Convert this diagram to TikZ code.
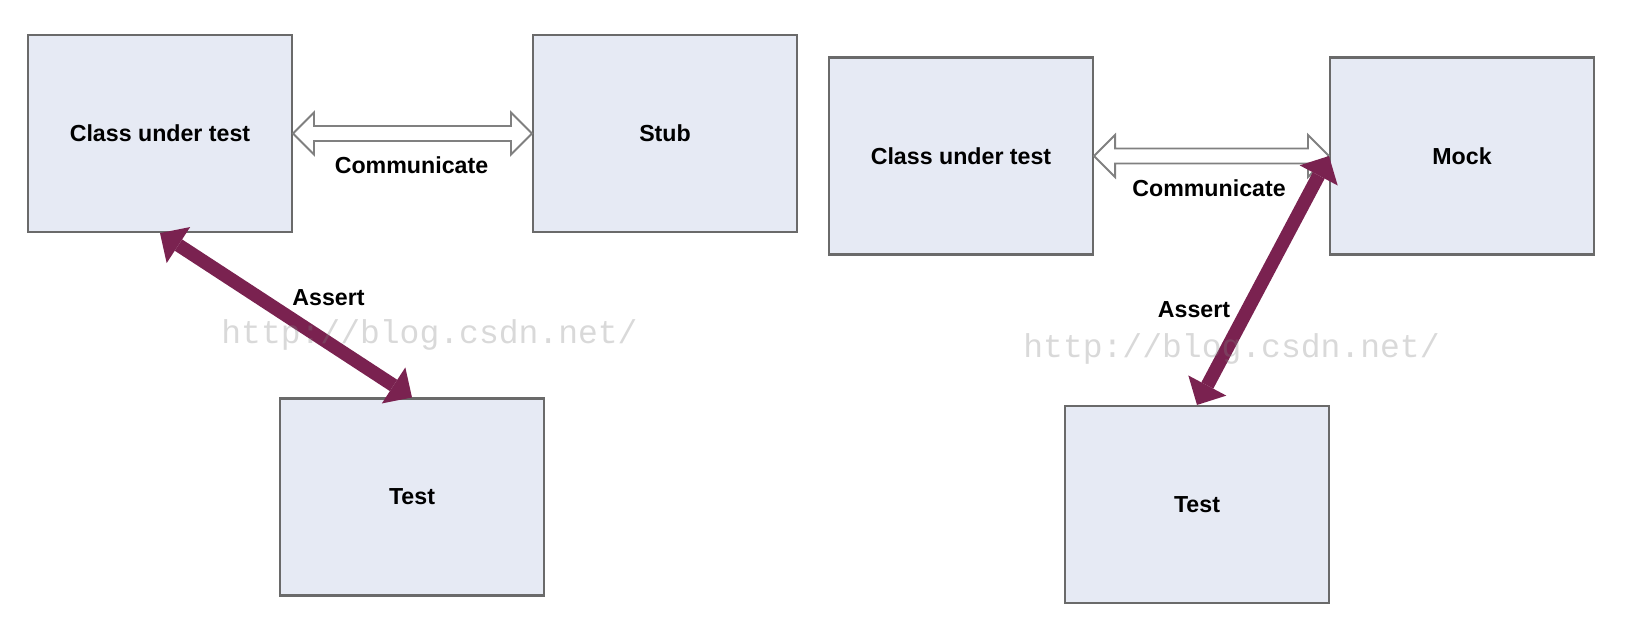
\documentclass[tikz,border=0pt]{standalone}
\usepackage{fontspec}
\setmainfont{Liberation Sans}
\newfontfamily\wmfont{Liberation Mono}
\usetikzlibrary{positioning}
\usetikzlibrary{arrows.meta}
\usetikzlibrary{calc}
\definecolor{boxfill}{HTML}{E6EAF4}
\definecolor{boxline}{HTML}{6A6A6A}
\definecolor{assertred}{HTML}{7A2250}

\begin{document}
\begin{tikzpicture}[x=0.02cm,y=-0.02cm,
	box/.style={draw=boxline, fill=boxfill, line width=1.2pt, minimum width=5.28cm, minimum height=3.94cm, font=\bfseries\fontsize{13.2}{15}\selectfont},
	lbl/.style={font=\bfseries\fontsize{13.2}{15}\selectfont},
	comm/.style={draw=gray, fill=white, line width=1.1pt, line join=miter},
	assert/.style={draw=assertred, line width=0.27cm, {Triangle[length=0.44cm,width=0.86cm,line width=0pt]}-{Triangle[length=0.44cm,width=0.86cm,line width=0pt]}},
	wmark/.style={text=gray, text opacity=0.3, font=\wmfont\fontsize{18.8}{20}\selectfont}]
	\useasboundingbox (0,0) rectangle (1648,628);
	% stub side
	\node (cutA) [box] at (160,133.5) {Class under test};
	\node (stub) [box, right=4.78cm of cutA] {Stub};
	\node (testA) [box] at (412,497) {Test};
	% mock side
	\node (cutB) [box] at (961,156) {Class under test};
	\node (mock) [box, right=4.7cm of cutB] {Mock};
	\node (testB) [box] at (1197,504.5) {Test};
	% communicate arrows
	\draw[comm] (cutA.east) -- ++(21,-21) -- ++(0,13.5) -- ($(stub.west)+(-21,-7.5)$) -- ++(0,-13.5) -- (stub.west) -- ++(-21,21) -- ++(0,-13.5) -- ($(cutA.east)+(21,7.5)$) -- ++(0,13.5) -- cycle;
	\draw[comm] (cutB.east) -- ++(21,-21) -- ++(0,13.5) -- ($(mock.west)+(-21,-7.5)$) -- ++(0,-13.5) -- (mock.west) -- ++(-21,21) -- ++(0,-13.5) -- ($(cutB.east)+(21,7.5)$) -- ++(0,13.5) -- cycle;
	% assert arrows
	\draw[assert] (cutA.south) -- (testA.north);
	\draw[assert] (mock.west) -- (testB.north);
	% labels
	\node (commA) [lbl] at (411.5,165) {Communicate};
	\node (commB) [lbl] at (1209,188) {Communicate};
	\node (assA) [lbl] at (328.5,298) {Assert};
	\node (assB) [lbl] at (1194,310) {Assert};
	% watermark
	\node (wmA) [wmark] at (429.5,335) {http://blog.csdn.net/};
	\node (wmB) [wmark] at (1231.5,349) {http://blog.csdn.net/};
\end{tikzpicture}
\end{document}
